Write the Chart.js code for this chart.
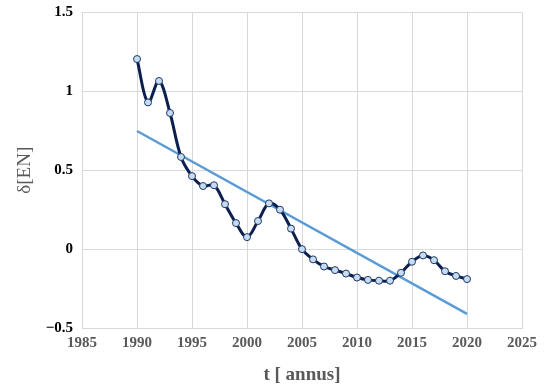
<!DOCTYPE html>
<html>
<head>
<meta charset="utf-8">
<script src="https://cdn.jsdelivr.net/npm/chart.js@4.4.1/dist/chart.umd.min.js"></script>
<style>
  html, body { margin: 0; padding: 0; background: #fff; }
  #wrap { width: 550px; height: 392px; }
</style>
</head>
<body>
<div id="wrap"><canvas id="deltaChart"></canvas></div>
<script>
// yearly values
const years = [1990, 1991, 1992, 1993, 1994, 1995, 1996, 1997, 1998, 1999, 2000,
    2001, 2002, 2003, 2004, 2005, 2006, 2007, 2008, 2009, 2010,
    2011, 2012, 2013, 2014, 2015, 2016, 2017, 2018, 2019, 2020];
const deltaEN = [1.205, 0.93, 1.066, 0.863, 0.584, 0.463, 0.40, 0.405, 0.285, 0.165, 0.076,
    0.178, 0.29, 0.25, 0.13, 0.0, -0.065, -0.11, -0.133, -0.155, -0.18,
    -0.195, -0.2, -0.2, -0.15, -0.08, -0.04, -0.07, -0.14, -0.17, -0.19];

// linear trend end points
const trendYears = [1990, 2020];
const trendValues = [0.749, -0.41];

const xTicks = [1985, 1990, 1995, 2000, 2005, 2010, 2015, 2020, 2025];
const yTicks = [-0.5, 0, 0.5, 1, 1.5];

const serif = "'Liberation Serif', 'Times New Roman', serif";

const ctx = document.getElementById('deltaChart').getContext('2d');

new Chart(ctx, {
    type: 'scatter',
    data: {
        datasets: [
            {
                label: 'trend',
                data: trendYears.map((y, i) => ({ x: y, y: trendValues[i] })),
                showLine: true,
                borderColor: '#5b9bd5',
                borderWidth: 2.5,
                pointRadius: 0,
                order: 2
            },
            {
                label: 'δ[EN]',
                data: years.map((y, i) => ({ x: y, y: deltaEN[i] })),
                showLine: true,
                tension: 0.35,
                borderColor: '#0c1f4e',
                borderWidth: 3,
                pointRadius: 3.5,
                pointBackgroundColor: '#c5dcf2',
                pointBorderColor: '#1f3864',
                pointBorderWidth: 1,
                order: 1
            }
        ]
    },
    options: {
        responsive: true,
        maintainAspectRatio: false,
        animation: false,
        layout: { padding: { top: 12.5, right: 28, left: 0, bottom: 0 } },
        plugins: {
            legend: { display: false },
            tooltip: { enabled: false }
        },
        scales: {
            x: {
                type: 'linear',
                min: 1985,
                max: 2025,
                afterBuildTicks: axis => { axis.ticks = xTicks.map(v => ({ value: v })); },
                afterFit: axis => { axis.height = 64; },
                grid: { color: '#d9d9d9', drawTicks: false, lineWidth: 1 },
                border: { color: '#d9d9d9' },
                ticks: {
                    padding: 6,
                    color: '#595959',
                    font: { family: serif, size: 15, weight: 'bold' },
                    callback: v => String(v)
                },
                title: {
                    display: true,
                    text: 't [ annus]',
                    color: '#595959',
                    font: { family: serif, size: 19, weight: 'bold' },
                    padding: { top: 4, bottom: 6 }
                }
            },
            y: {
                min: -0.5,
                max: 1.5,
                afterBuildTicks: axis => { axis.ticks = yTicks.map(v => ({ value: v })); },
                afterFit: axis => {
                    axis.width = 82;
                    axis.paddingTop = 0;
                    axis.paddingBottom = 0;
                },
                grid: { color: '#d9d9d9', drawTicks: false, lineWidth: 1 },
                border: { color: '#d9d9d9' },
                ticks: {
                    padding: 9,
                    color: '#000',
                    font: { family: serif, size: 15, weight: 'bold' },
                    callback: v => v < 0 ? '\u2212' + Math.abs(v) : String(v)
                },
                title: {
                    display: true,
                    text: 'δ[EN]',
                    color: '#595959',
                    font: { family: serif, size: 19 },
                    padding: { top: 14, bottom: 0 }
                }
            }
        }
    }
});
</script>
</body>
</html>
